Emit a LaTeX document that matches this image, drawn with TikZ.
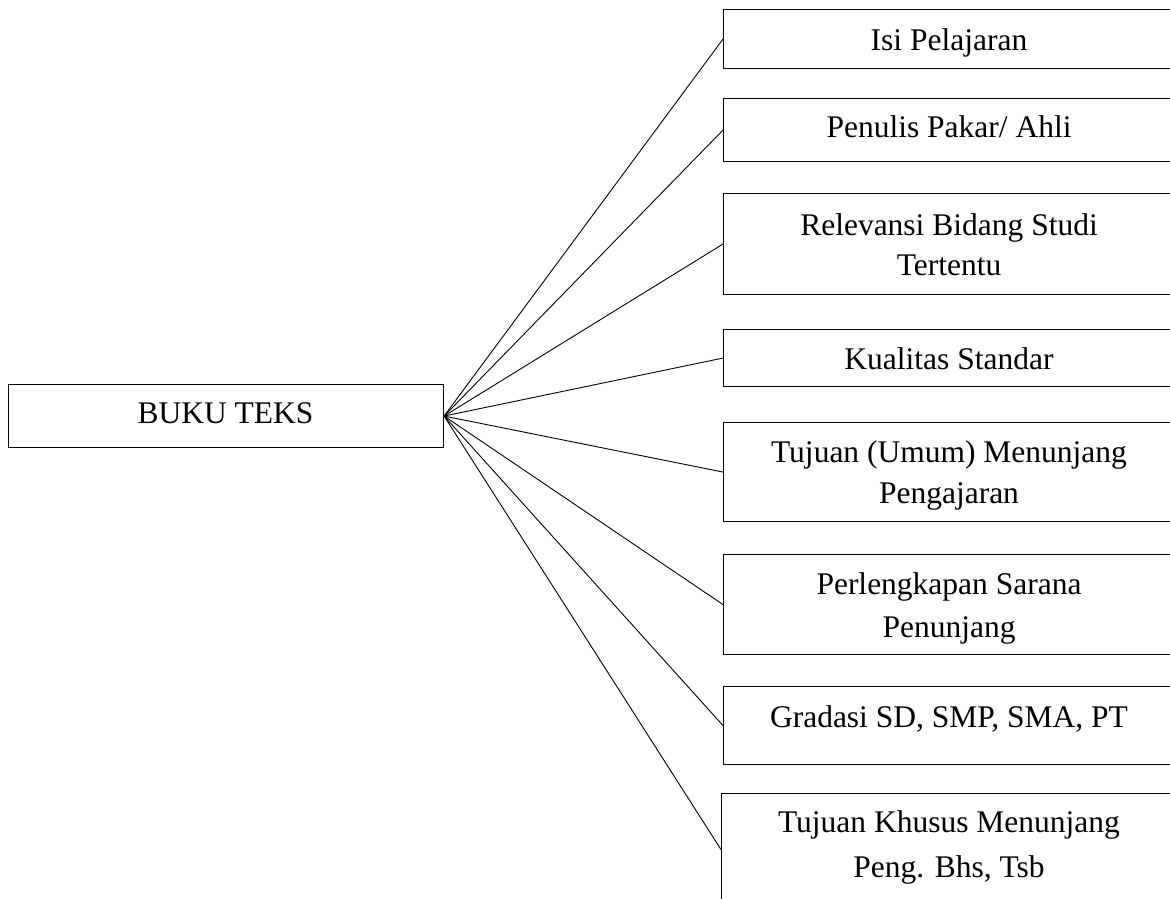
\documentclass[tikz,border=0pt]{standalone}
\usepackage{fontspec}
\setmainfont{Liberation Serif}
\begin{document}
\begin{tikzpicture}[x=1pt,y=-1pt,
  box/.style={draw=black,line width=1.1pt,rectangle,inner sep=0pt,anchor=north west,minimum width=450pt},
  lbl/.style={anchor=base,inner sep=0pt,font=\fontsize{31.5}{40}\selectfont},
  conn/.style={draw=black,line width=0.9pt}]
\useasboundingbox (0,0) rectangle (1170,898);
\clip (0,0) rectangle (1170,898);
\fill[white] (0,0) rectangle (1170,898);
% central box
\node[box,minimum width=435pt,minimum height=63pt] (buku) at (8,384) {};
\node[lbl] (tbuku) at (225.5,423) {BUKU TEKS};
% right boxes
\node[box,minimum height=59pt] (b1) at (723,9) {};
\node[box,minimum height=63pt] (b2) at (723,98) {};
\node[box,minimum height=101pt] (b3) at (723,193) {};
\node[box,minimum height=57pt] (b4) at (723,329) {};
\node[box,minimum height=99pt] (b5) at (723,422) {};
\node[box,minimum height=100pt] (b6) at (723,554) {};
\node[box,minimum height=78pt] (b7) at (723,686) {};
\node[box,minimum height=112pt] (b8) at (721,793) {};
% labels
\node[lbl] (t1) at (949,50) {Isi Pelajaran};
\node[lbl] (t2) at (949,137) {Penulis Pakar/ Ahli};
\node[lbl] (t3a) at (949,235) {Relevansi Bidang Studi};
\node[lbl] (t3b) at (949,275) {Tertentu};
\node[lbl] (t4) at (949,369) {Kualitas Standar};
\node[lbl] (t5a) at (949,462) {Tujuan (Umum) Menunjang};
\node[lbl] (t5b) at (949,503) {Pengajaran};
\node[lbl] (t6a) at (949,594) {Perlengkapan Sarana};
\node[lbl] (t6b) at (949,637) {Penunjang};
\node[lbl] (t7) at (949,727) {Gradasi SD, SMP, SMA, PT};
\node[lbl] (t8a) at (949,832) {Tujuan Khusus Menunjang};
\node[lbl] (t8b) at (949,877) {Peng. Bhs, Tsb};
% connectors
\foreach \b in {b1,b2,b3,b4,b5,b6,b7,b8}
  \draw[conn] (buku.east) -- (\b.west);
\end{tikzpicture}
\end{document}
